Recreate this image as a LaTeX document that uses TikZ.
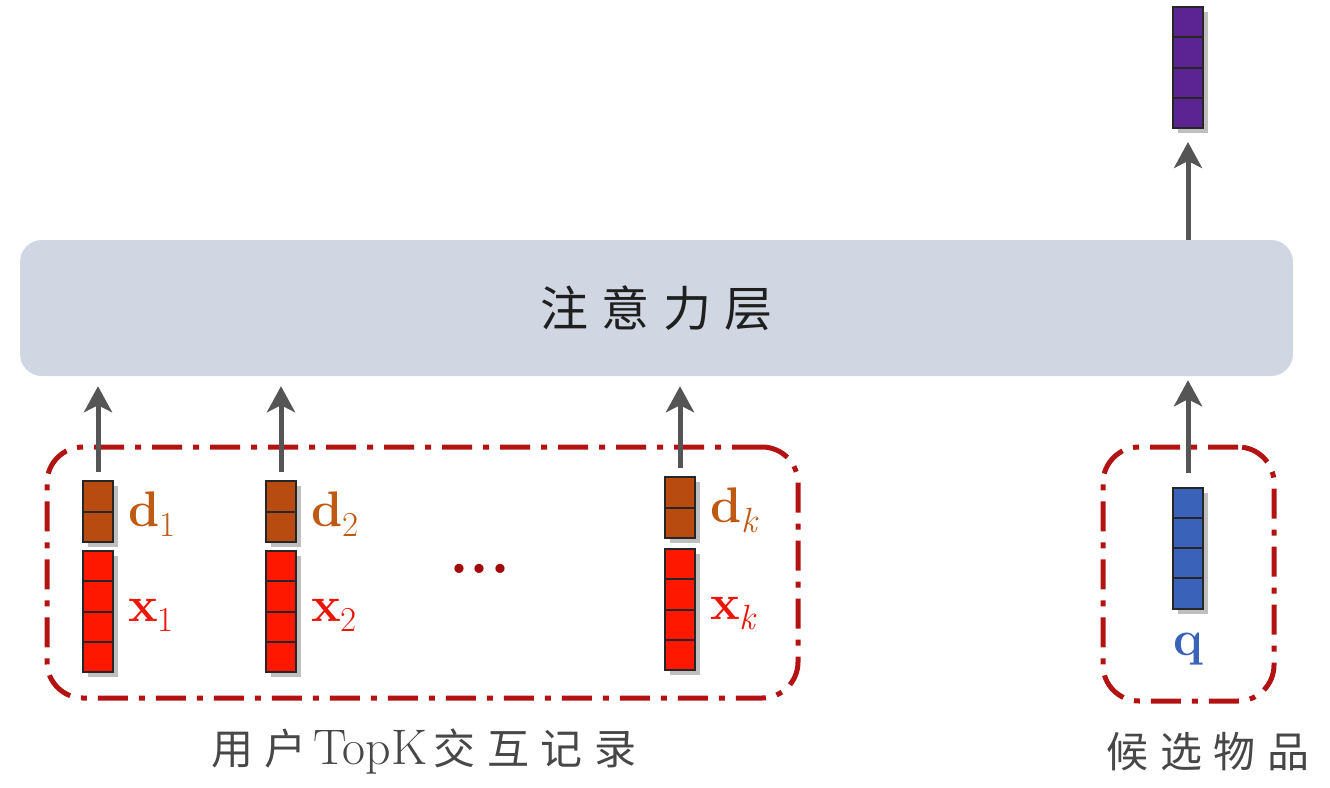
\documentclass[tikz,border=0pt]{standalone}
\usepackage{amsmath}
\usepackage{fontspec}
\newfontfamily\cjk{Noto Sans CJK SC}
\usetikzlibrary{arrows.meta,shadows,calc,positioning}

\definecolor{layerfill}{RGB}{208,214,226}
\definecolor{boxred}{RGB}{178,18,18}
\definecolor{dotred}{RGB}{160,10,10}
\definecolor{dcol}{RGB}{184,76,16}
\definecolor{xcol}{RGB}{255,24,0}
\definecolor{qcol}{RGB}{58,98,184}
\definecolor{outcol}{RGB}{92,36,146}
\definecolor{arrgray}{RGB}{85,85,85}
\definecolor{dlabel}{RGB}{190,90,20}
\definecolor{xlabel}{RGB}{235,22,8}

\newcommand{\hsp}{\hspace{0.28em}}
\newcommand{\vlab}[2]{\textbf{#1}\raisebox{-0.2em}{\fontsize{35}{35}\selectfont #2}}

\tikzset{
  vecbox/.style={draw=black!85, line width=2pt, minimum width=30pt, inner sep=0pt, outer sep=0pt,
    drop shadow={shadow xshift=5pt, shadow yshift=-5pt, fill=black, opacity=0.25}},
  vec2/.style={vecbox, minimum height=61pt},
  vec4/.style={vecbox, minimum height=121pt},
  cellline/.style={black!85, line width=2pt},
  uparrow/.style={arrgray, line width=5pt, -{Stealth[length=26pt, width=28pt, inset=7pt]}},
  groupbox/.style={draw=boxred, line width=5pt, rounded corners=36pt,
    dash pattern=on 30pt off 11pt on 6pt off 11pt},
  veclabel/.style={font=\fontsize{50}{50}\selectfont, inner sep=0pt},
  caption/.style={font=\fontsize{42}{42}\selectfont, text=black!72},
}

\begin{document}
\begin{tikzpicture}[x=1pt, y=-1pt]
\useasboundingbox (0,0) rectangle (1330,787);

% attention layer
\node[fill=layerfill, rounded corners=22pt, minimum width=1273pt, minimum height=136pt, inner sep=0pt] (att)
  at (656.5,308) {\fontsize{48}{48}\selectfont\cjk\color{black!88}注\hsp 意\hsp 力\hsp 层};

% groups
\node[groupbox, minimum width=751pt, minimum height=251pt] (hist) at (422.5,572.5) {};
\node[groupbox, minimum width=171pt, minimum height=254pt] (cand) at (1188.5,574) {};

% vectors
\node[vec2, fill=dcol] (d1) at (98,511.5) {};
\node[vec4, fill=xcol, below=9pt of d1] (x1) {};
\node[vec2, fill=dcol] (d2) at (281,511.5) {};
\node[vec4, fill=xcol, below=9pt of d2] (x2) {};
\node[vec2, fill=dcol] (dk) at (680,507.5) {};
\node[vec4, fill=xcol, below=11pt of dk] (xk) {};
\node[vec4, fill=qcol] (q) at (1188,548) {};
\node[vec4, fill=outcol] (out) at (1188,67.5) {};

\foreach \v/\n in {d1/2,d2/2,dk/2,x1/4,x2/4,xk/4,q/4,out/4}{
  \pgfmathtruncatemacro{\m}{\n-1}
  \foreach \i in {1,...,\m}
    \draw[cellline] ($(\v.north west)!{\i/\n}!(\v.south west)$) -- ($(\v.north east)!{\i/\n}!(\v.south east)$);
}

% labels
\node[veclabel, text=dlabel, right=15pt of d1, yshift=-3pt] (d1l) {\vlab{d}{1}};
\node[veclabel, text=xlabel, right=15pt of x1, yshift=-4pt] (x1l) {\vlab{x}{1}};
\node[veclabel, text=dlabel, right=15pt of d2, yshift=-3pt] (d2l) {\vlab{d}{2}};
\node[veclabel, text=xlabel, right=15pt of x2, yshift=-4pt] (x2l) {\vlab{x}{2}};
\node[veclabel, text=dlabel, right=15pt of dk, yshift=-3pt] (dkl) {\vlab{d}{\textit{k}}};
\node[veclabel, text=xlabel, right=15pt of xk, yshift=-4pt] (xkl) {\vlab{x}{\textit{k}}};
\node[veclabel, text=qcol, below=24pt of q] (ql) {\textbf{q}};
\node[text=dotred, font=\fontsize{64}{64}\selectfont\bfseries, inner sep=0pt, anchor=base] (dots) at (480,573) {...};

% captions
\node[caption] (histcap) at (424,752) {{\cjk 用\hsp 户}\hspace{0.15em}{\fontsize{50}{50}\selectfont TopK}\hspace{0.15em}{\cjk 交\hsp 互\hsp 记\hsp 录}};
\node[caption] (candcap) at (1208,752) {\cjk 候\hsp 选\hsp 物\hsp 品};

% arrows
\foreach \v in {d1,d2,dk}
  \draw[uparrow, shorten <=9pt, shorten >=10pt] (\v.north) -- (\v.north |- att.south);
\draw[uparrow, shorten <=15pt, shorten >=4pt] (q.north) -- (q.north |- att.south);
\draw[uparrow, shorten >=14pt] (out.south |- att.north) -- (out.south);
\end{tikzpicture}
\end{document}
